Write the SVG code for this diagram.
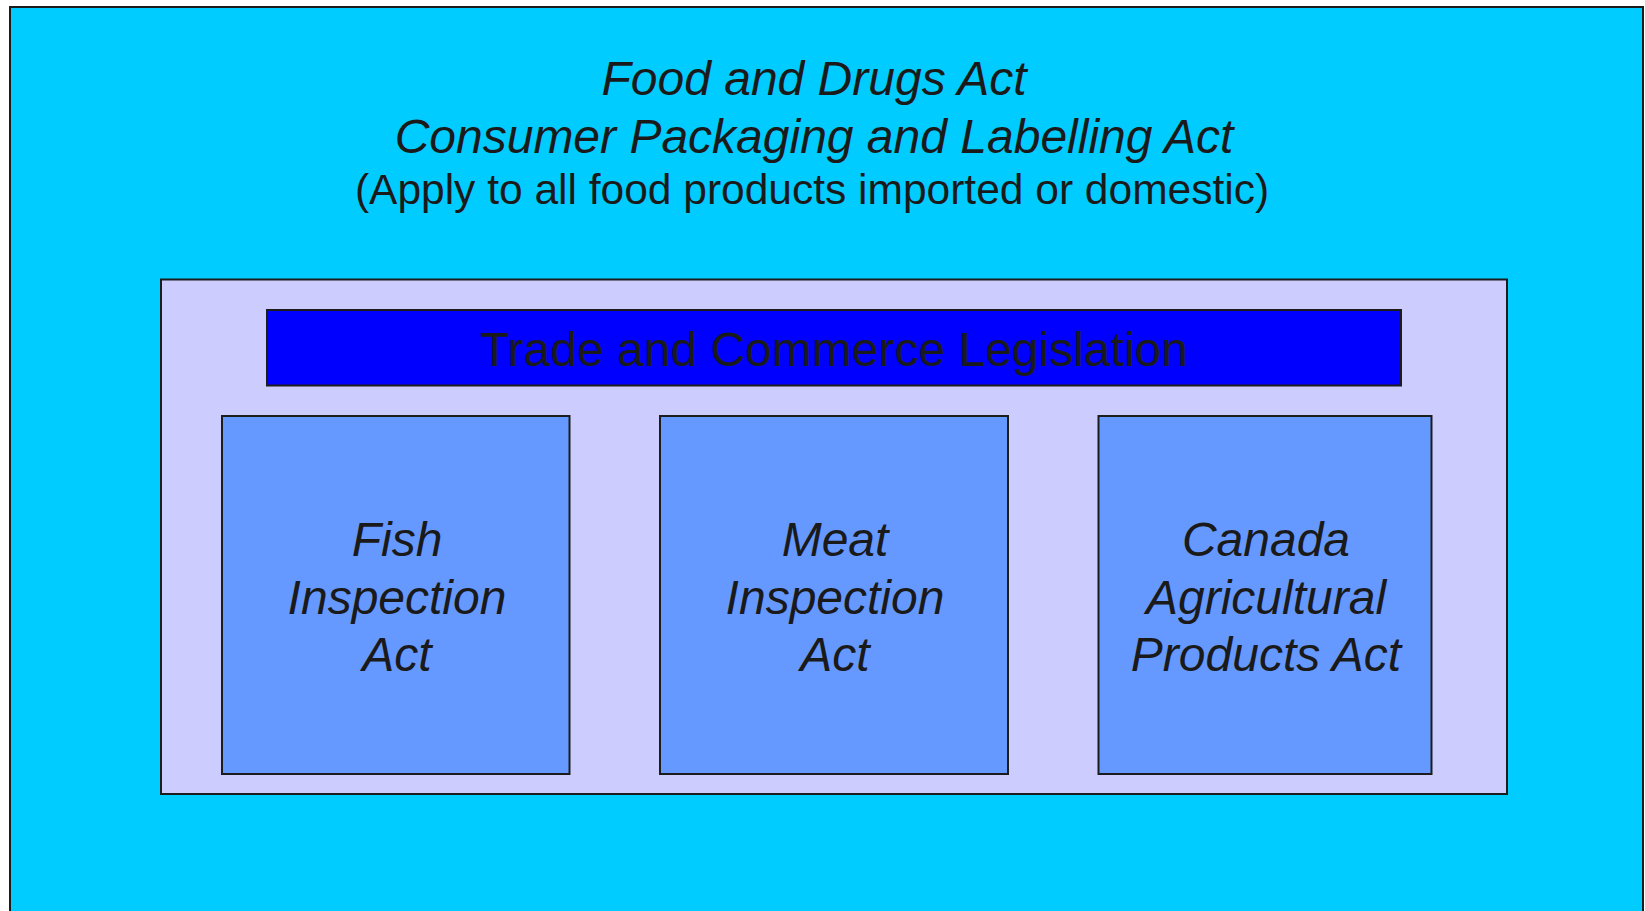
<svg xmlns="http://www.w3.org/2000/svg" width="1645" height="911" viewBox="0 0 1645 911">
  <style>
    .box { stroke: #1c1c1c; stroke-width: 2; }
    .it { font-family: "Liberation Sans", Arial, sans-serif; font-style: italic; font-size: 48px; fill: #1a1a1a; text-anchor: middle; }
    .rg { font-family: "Liberation Sans", Arial, sans-serif; font-size: 42.5px; fill: #1a1a1a; text-anchor: middle; }
    .bar { font-family: "Liberation Sans", Arial, sans-serif; font-size: 48px; fill: #1a1a1a; text-anchor: middle; }
  </style>
  <rect width="1645" height="911" fill="#ffffff"/>
  <g id="outer">
    <rect class="box" x="10" y="7" width="1633" height="920" fill="#00CCFF"/>
    <text class="it" x="814" y="95">Food and Drugs Act</text>
    <text class="it" x="814" y="152.5">Consumer Packaging and Labelling Act</text>
    <text class="rg" x="812" y="204">(Apply to all food products imported or domestic)</text>
  </g>
  <g id="trade-container">
    <rect class="box" x="161" y="279.5" width="1346" height="514.5" fill="#CCCCFF"/>
  </g>
  <g id="trade-bar">
    <rect class="box" x="267" y="310" width="1134" height="75.5" fill="#0000FF"/>
    <text class="bar" x="834" y="366">Trade and Commerce Legislation</text>
  </g>
  <g id="fish">
    <rect class="box" x="222" y="416" width="347.5" height="358" fill="#6699FF"/>
    <text class="it" x="397" y="556">Fish</text>
    <text class="it" x="397" y="613.5">Inspection</text>
    <text class="it" x="397" y="671">Act</text>
  </g>
  <g id="meat">
    <rect class="box" x="660" y="416" width="348" height="358" fill="#6699FF"/>
    <text class="it" x="835" y="556">Meat</text>
    <text class="it" x="835" y="613.5">Inspection</text>
    <text class="it" x="835" y="671">Act</text>
  </g>
  <g id="canada">
    <rect class="box" x="1098.5" y="416" width="333" height="358" fill="#6699FF"/>
    <text class="it" x="1266" y="556">Canada</text>
    <text class="it" x="1266" y="613.5">Agricultural</text>
    <text class="it" x="1266" y="671">Products Act</text>
  </g>
  <g id="connectors"></g>
</svg>
